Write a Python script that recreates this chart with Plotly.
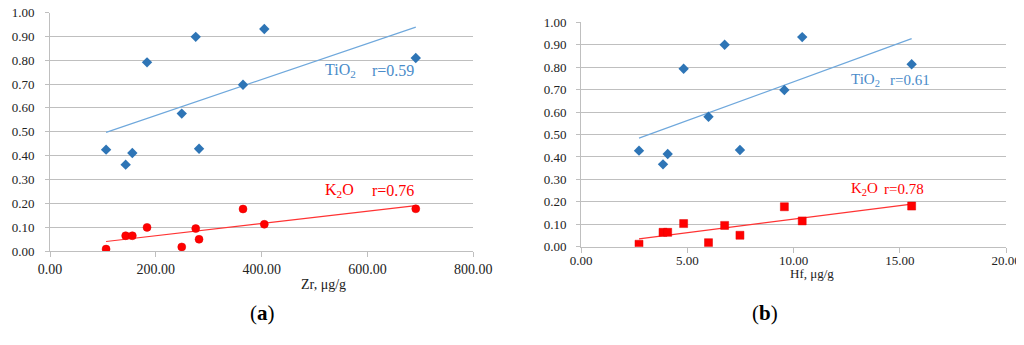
import numpy as np
import plotly.graph_objects as go

# ---- data (a): Zr ----
zr = [106, 143, 155.6, 183.4, 249, 275.4, 281.7, 364.8, 405, 691.3]
tio2_a = [0.425, 0.362, 0.411, 0.791, 0.576, 0.898, 0.429, 0.697, 0.931, 0.809]
k2o_a = [0.008, 0.064, 0.064, 0.099, 0.017, 0.094, 0.049, 0.176, 0.112, 0.177]

# ---- data (b): Hf ----
hf = [2.73, 3.86, 4.08, 4.83, 6.0, 6.76, 7.48, 9.57, 10.41, 15.56]
tio2_b = [0.428, 0.367, 0.413, 0.793, 0.579, 0.900, 0.431, 0.698, 0.934, 0.813]
k2o_b = [0.011, 0.064, 0.064, 0.103, 0.018, 0.095, 0.051, 0.178, 0.115, 0.181]

r_labels_a = ["r=0.59", "r=0.76"]
r_labels_b = ["r=0.61", "r=0.78"]

BLUE_M = "#2E75B6"
BLUE_L = "#6FA8DC"
BLUE_T = "#4A8BC9"
RED = "#FF0000"
FONT = "Liberation Serif"

# page body has an 8px margin: figure occupies window pixels 8..1024 x 8..345
OFF = 8
W, H = 1024 - OFF, 345 - OFF


def px(x):
    return (x - OFF) / W


def py(y):
    return 1 - (y - OFF) / H


fig = go.Figure()


def trend(x, y):
    c = np.polyfit(x, y, 1)
    xs = np.array([min(x), max(x)])
    return xs, np.polyval(c, xs)


for xd, t, k, xa, ya, sym in [
    (zr, tio2_a, k2o_a, "x", "y", "circle"),
    (hf, tio2_b, k2o_b, "x2", "y2", "square"),
]:
    tx, ty = trend(xd, t)
    kx, ky = trend(xd, k)
    fig.add_trace(go.Scatter(x=tx, y=ty, mode="lines", line=dict(color=BLUE_L, width=1.2),
                             xaxis=xa, yaxis=ya, hoverinfo="skip"))
    fig.add_trace(go.Scatter(x=kx, y=ky, mode="lines", line=dict(color="#FF3333", width=1.2),
                             xaxis=xa, yaxis=ya, hoverinfo="skip"))
    fig.add_trace(go.Scatter(x=xd, y=t, mode="markers",
                             marker=dict(symbol="diamond", size=8, color=BLUE_M),
                             xaxis=xa, yaxis=ya))
    fig.add_trace(go.Scatter(x=xd, y=k, mode="markers",
                             marker=dict(symbol=sym, size=8, color=RED,
                                         line=dict(color="#E00000", width=0.5)),
                             xaxis=xa, yaxis=ya))

tf14 = dict(family=FONT, size=14, color="#222")
tf13 = dict(family=FONT, size=13, color="#222")
ax_common = dict(showgrid=False, zeroline=False, showline=True, linecolor="#BFBFBF",
                 linewidth=1, ticks="outside", ticklen=5, tickcolor="#BFBFBF",
                 tickformat=".2f", automargin=False, ticklabeloverflow="allow")
ay_common = dict(showgrid=True, gridcolor="#BFBFBF", gridwidth=1, zeroline=False,
                 showline=True, linecolor="#BFBFBF", linewidth=1, ticks="outside",
                 ticklen=4, tickcolor="#BFBFBF", range=[0, 1], dtick=0.1,
                 tickformat=".2f", automargin=False, ticklabeloverflow="allow")

fig.update_layout(
    template="none",
    width=W, height=H,
    margin=dict(l=0, r=0, t=0, b=0, autoexpand=False),
    paper_bgcolor="white", plot_bgcolor="white",
    font=dict(family=FONT, size=14, color="#222"),
    showlegend=False,
    xaxis=dict(ax_common, domain=[px(50), px(473.3)], range=[0, 800], dtick=200,
               anchor="y", ticklabelstandoff=0, tickfont=tf14),
    yaxis=dict(ay_common, domain=[py(251), py(12.5)], anchor="x",
               ticklabelstandoff=8, tickfont=tf13),
    xaxis2=dict(ax_common, domain=[px(581), px(1006)], range=[0, 20], dtick=5,
                anchor="y2", ticklabelstandoff=-3, tickfont=tf13),
    yaxis2=dict(ay_common, domain=[py(246.7), py(22.3)], anchor="x2",
                ticklabelstandoff=7, tickfont=tf13),
)

ann = []
lbl_font_b = dict(family=FONT, size=16, color=BLUE_T)
lbl_font_r = dict(family=FONT, size=16, color=RED)
lbl_font_b2 = dict(family=FONT, size=15, color=BLUE_T)
lbl_font_r2 = dict(family=FONT, size=15, color=RED)
# panel (a) labels
ann += [
    dict(x=515.9, y=0.755, xref="x", yref="y", text="TiO<sub>2</sub>", xanchor="left",
         showarrow=False, font=lbl_font_b),
    dict(x=691.7, y=0.755, xref="x", yref="y", text=r_labels_a[0], xanchor="right",
         showarrow=False, font=lbl_font_b),
    dict(x=515.9, y=0.253, xref="x", yref="y", text="K<sub>2</sub>O", xanchor="left",
         showarrow=False, font=lbl_font_r),
    dict(x=691.7, y=0.253, xref="x", yref="y", text=r_labels_a[1], xanchor="right",
         showarrow=False, font=lbl_font_r),
]
# panel (b) labels
ann += [
    dict(x=12.61, y=0.743, xref="x2", yref="y2", text="TiO<sub>2</sub>", xanchor="left",
         showarrow=False, font=lbl_font_b2),
    dict(x=16.52, y=0.743, xref="x2", yref="y2", text=r_labels_b[0], xanchor="right",
         showarrow=False, font=lbl_font_b2),
    dict(x=12.61, y=0.257, xref="x2", yref="y2", text="K<sub>2</sub>O", xanchor="left",
         showarrow=False, font=lbl_font_r2),
    dict(x=16.24, y=0.257, xref="x2", yref="y2", text=r_labels_b[1], xanchor="right",
         showarrow=False, font=lbl_font_r2),
]
# axis titles and panel letters
ann += [
    dict(x=px(299), y=py(294), xref="paper", yref="paper", text="Zr, μg/g",
         showarrow=False, font=dict(family=FONT, size=14, color="#222")),
    dict(x=px(836), y=py(283), xref="paper", yref="paper", text="Hf, μg/g",
         showarrow=False, font=dict(family=FONT, size=13, color="#222")),
    dict(x=px(248), y=py(327), xref="paper", yref="paper", text="(<b>a</b>)",
         showarrow=False, font=dict(family=FONT, size=21, color="#000")),
    dict(x=px(780), y=py(327), xref="paper", yref="paper", text="(<b>b</b>)",
         showarrow=False, font=dict(family=FONT, size=21, color="#000")),
]
fig.update_layout(annotations=ann)

fig.write_html("out.html")
